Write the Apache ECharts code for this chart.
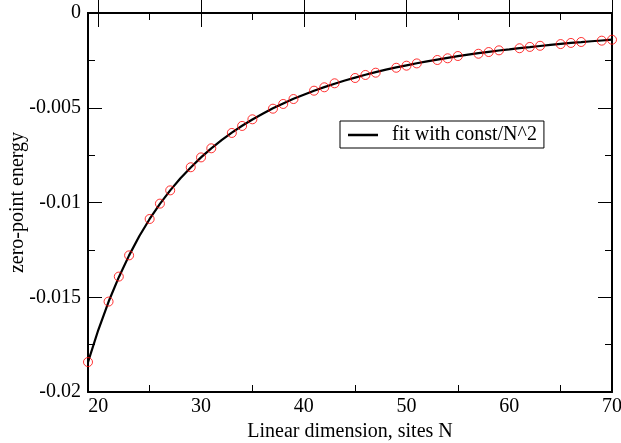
<!DOCTYPE html>
<html>
<head>
<meta charset="utf-8">
<script src="https://cdn.jsdelivr.net/npm/echarts@6/dist/echarts.min.js"></script>
<style>
html,body{margin:0;padding:0;background:#fff;}
#chart{width:621px;height:443px;}
</style>
</head>
<body>
<div id="chart"></div>
<script>
var sitesN = [19,21,22,23,25,26,27,29,30,31,33,34,35,37,38,39,41,42,43,45,46,47,49,50,51,53,54,55,57,58,59,61,62,63,65,66,67,69,70];
var energy = [-0.01842,-0.01523,-0.01391,-0.01279,-0.01087,-0.01006,-0.00936,-0.00814,-0.00762,-0.00714,-0.00633,-0.00596,-0.00561,-0.00505,-0.0048,-0.00454,-0.0041,-0.00392,-0.00371,-0.00343,-0.00327,-0.00315,-0.00289,-0.00278,-0.00266,-0.00248,-0.00239,-0.00227,-0.00215,-0.00206,-0.00197,-0.00186,-0.00179,-0.00173,-0.00164,-0.00158,-0.00153,-0.00146,-0.00141];
var fitN = [19,20,21,22,23,24,25,26,27,28,29,30,31,32,33,34,35,36,37,38,39,40,41,42,43,44,45,46,47,48,49,50,51,52,53,54,55,56,57,58,59,60,61,62,63,64,65,66,67,68,69,70];
var fitEnergy = [-0.01842,-0.01673,-0.01524,-0.01394,-0.01279,-0.01177,-0.01087,-0.01007,-0.00936,-0.00872,-0.00815,-0.00762,-0.00714,-0.00671,-0.00631,-0.00595,-0.00562,-0.00532,-0.00503,-0.00477,-0.00453,-0.00431,-0.00410,-0.00391,-0.00373,-0.00356,-0.00341,-0.00326,-0.00312,-0.00299,-0.00287,-0.00276,-0.00265,-0.00255,-0.00246,-0.00237,-0.00228,-0.00220,-0.00212,-0.00205,-0.00198,-0.00192,-0.00185,-0.00180,-0.00174,-0.00168,-0.00163,-0.00158,-0.00154,-0.00149,-0.00145,-0.00141];
var xMajorTicks = [20,30,40,50,60,70];
var xMinorTicks = [25,35,45,55,65];
var legendLabel = 'fit with const/N^2';

var FONT = '"Liberation Serif","DejaVu Serif",serif';
function pairs(xs, ys){ return xs.map(function(x,i){ return [x, ys[i]]; }); }

var chart = echarts.init(document.getElementById('chart'), null, {renderer:'canvas'});
var axisLine = {show:true, lineStyle:{color:'#000', width:2}};
function xAxisDef(pos, ticks, len, showLabel, name){
  return {
    type:'value', min:19, max:70, position:pos, gridIndex:0,
    axisLine: axisLine,
    splitLine:{show:false},
    axisTick:{show:true, inside:true, length:len, customValues:ticks, lineStyle:{color:'#000', width:1}},
    axisLabel:{show:showLabel, customValues:ticks, color:'#000', fontFamily:FONT, fontSize:20, margin:5},
    name: name || '', nameLocation:'middle', nameGap:30, nameMoveOverlap:false,
    nameTextStyle:{color:'#000', fontFamily:FONT, fontSize:20}
  };
}
function yAxisDef(pos, showLabel, name){
  return {
    type:'value', min:-0.02, max:0, interval:0.005, position:pos,
    axisLine: axisLine,
    splitLine:{show:false},
    axisTick:{show:true, inside:true, length:14, lineStyle:{color:'#000', width:1}},
    minorTick:{show:true, splitNumber:2, length:7, lineStyle:{color:'#000', width:1}},
    minorSplitLine:{show:false},
    axisLabel:{show:showLabel, color:'#000', fontFamily:FONT, fontSize:20, margin:7},
    name: name || '', nameLocation:'middle', nameGap:60, nameMoveOverlap:false,
    nameTextStyle:{color:'#000', fontFamily:FONT, fontSize:20}
  };
}
chart.setOption({
  animation:false,
  backgroundColor:'#fff',
  grid:{left:88, right:9, top:13, bottom:51, containLabel:false, outerBoundsMode:'none'},
  legend:{
    data:[{name:legendLabel, icon:'rect'}], left:340, top:121, orient:'horizontal',
    borderColor:'#000', borderWidth:1, padding:[4,7,3,8],
    itemWidth:30, itemHeight:2.5, itemGap:10,
    textStyle:{color:'#000', fontFamily:FONT, fontSize:20, padding:[0,0,0,9]}
  },
  xAxis:[
    xAxisDef('bottom', xMajorTicks, 14, true, 'Linear dimension, sites N'),
    xAxisDef('top', xMajorTicks, 14, false),
    xAxisDef('bottom', xMinorTicks, 7, false),
    xAxisDef('top', xMinorTicks, 7, false)
  ],
  yAxis:[
    yAxisDef('left', true, 'zero-point energy'),
    yAxisDef('right', false)
  ],
  series:[
    {
      name:legendLabel, type:'line', xAxisIndex:0, yAxisIndex:0,
      data: pairs(fitN, fitEnergy), smooth:false,
      symbol:'none', showSymbol:false,
      lineStyle:{color:'#000', width:2.2}, itemStyle:{color:'#000'}, z:2
    },
    {
      name:'data', type:'scatter', xAxisIndex:0, yAxisIndex:0,
      data: pairs(sitesN, energy),
      symbol:'circle', symbolSize:9,
      itemStyle:{color:'rgba(0,0,0,0)', borderColor:'#ff0000', borderWidth:1}, z:3
    }
  ]
});
</script>
</body>
</html>
